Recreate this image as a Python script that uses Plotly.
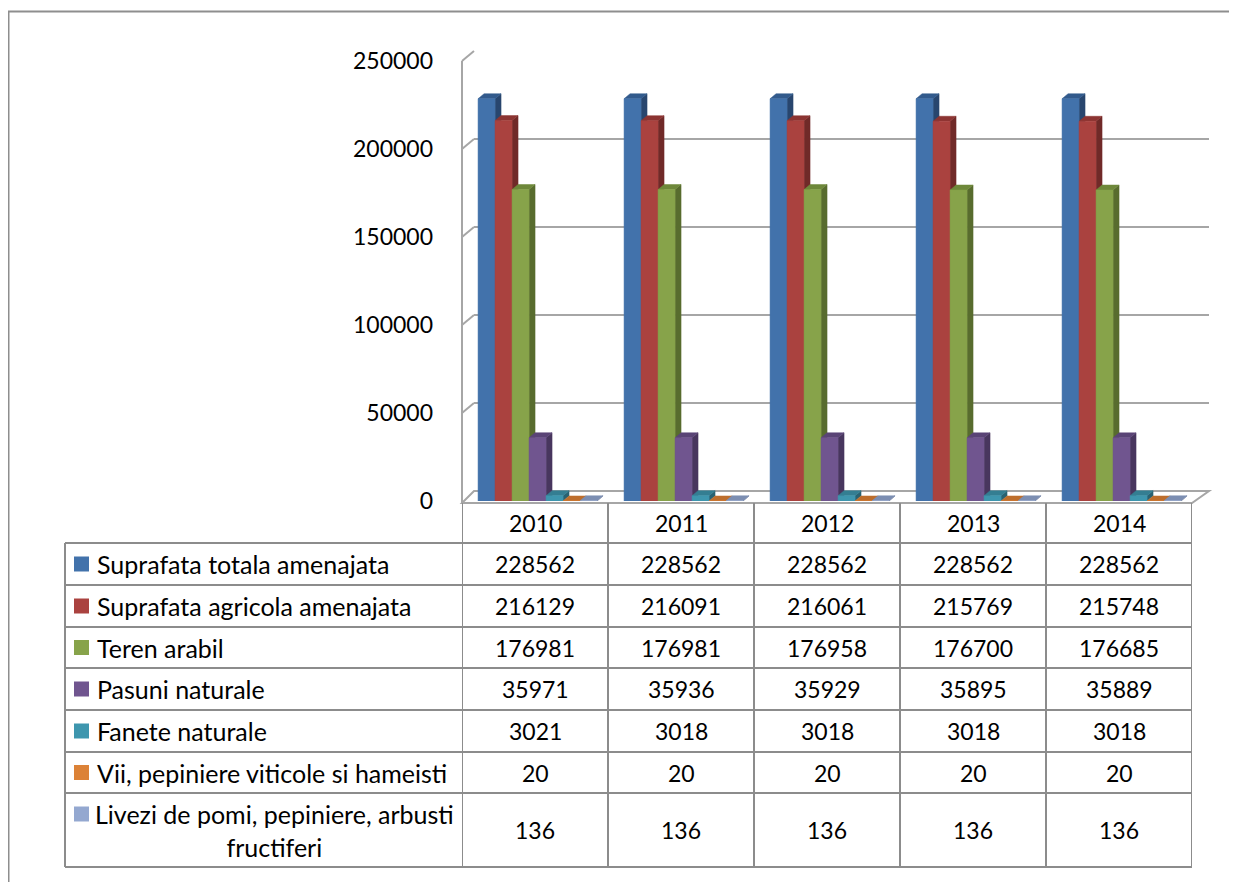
import plotly.graph_objects as go

years = ['2010', '2011', '2012', '2013', '2014']
series_names = [
    'Suprafata totala amenajata',
    'Suprafata agricola amenajata',
    'Teren arabil',
    'Pasuni naturale',
    'Fanete naturale',
    'Vii, pepiniere viticole si hameisti',
    'Livezi de pomi, pepiniere, arbusti fructiferi',
]
totala = [228562, 228562, 228562, 228562, 228562]
agricola = [216129, 216091, 216061, 215769, 215748]
arabil = [176981, 176981, 176958, 176700, 176685]
pasuni = [35971, 35936, 35929, 35895, 35889]
fanete = [3021, 3018, 3018, 3018, 3018]
vii = [20, 20, 20, 20, 20]
livezi = [136, 136, 136, 136, 136]
y_ticks = [0, 50000, 100000, 150000, 200000, 250000]

series_values = [totala, agricola, arabil, pasuni, fanete, vii, livezi]

front_colors = ['rgb(66,114,171)', 'rgb(170,66,63)', 'rgb(135,163,74)', 'rgb(112,85,143)',
                'rgb(62,150,174)', 'rgb(220,130,55)', 'rgb(148,168,208)']
side_colors = ['rgb(40,70,110)', 'rgb(112,42,40)', 'rgb(88,108,46)', 'rgb(72,54,94)',
               'rgb(40,98,114)', 'rgb(150,88,36)', 'rgb(100,114,146)']
top_colors = ['rgb(50,90,140)', 'rgb(140,52,50)', 'rgb(110,136,58)', 'rgb(90,68,118)',
              'rgb(52,126,146)', 'rgb(190,110,44)', 'rgb(124,142,178)']

W, H = 1237, 882
OFF = 8  # page body margin shifts the figure by this much
YMAX = 250000
# front plane (pixels in the page)
X0, X1, Y0, YT = 462, 1192, 501, 61
# back wall (pixels in the page)
BX0, BX1, BY0, BYT = 474, 1209, 491, 51


def px(x):
    return (x - OFF) / W


def py(y):
    return 1 - (y - OFF) / H


def fy(t):
    return Y0 - t / YMAX * (Y0 - YT)


def by(t):
    return BY0 - t / YMAX * (BY0 - BYT)


cat_px = (X1 - X0) / len(years)
w = 17 / cat_px
dx = 6 / cat_px
dy = 5 * YMAX / (Y0 - YT)
left = -0.39

fig = go.Figure()

# back wall grid lives on x/y so it sits under the bars
fig.add_trace(go.Scatter(x=[0], y=[0], mode='markers', marker=dict(opacity=0),
                         hoverinfo='skip', showlegend=False, xaxis='x', yaxis='y'))

for j, (name, vals) in enumerate(zip(series_names, series_values)):
    fx, fyy, sx, sy, tx, ty = [], [], [], [], [], []
    for i, v in enumerate(vals):
        xl = i + left + j * w
        xr = xl + w
        sx += [xr, xr + dx, xr + dx, xr, xr, None]
        sy += [0, dy, v + dy, v, 0, None]
        tx += [xl, xr, xr + dx, xl + dx, xl, None]
        ty += [v, v, v + dy, v + dy, v, None]
        fx += [xl, xr, xr, xl, xl, None]
        fyy += [0, 0, v, v, 0, None]
    for xs, ys, col in [(sx, sy, side_colors[j]), (tx, ty, top_colors[j]), (fx, fyy, front_colors[j])]:
        fig.add_trace(go.Scatter(
            x=xs, y=ys, mode='lines', fill='toself', fillcolor=col,
            line=dict(color=col, width=0.5), name=name, showlegend=False,
            hoverinfo='skip', xaxis='x2', yaxis='y2'))

shapes = []
grid = dict(color='#A6A6A6', width=2)
tab = dict(color='#8C8C8C', width=2)

# outer frame
shapes.append(dict(type='line', xref='paper', yref='paper', x0=px(8.5), x1=px(8.5),
                   y0=py(11), y1=0, line=dict(color='#8E8E8E', width=2)))
shapes.append(dict(type='line', xref='paper', yref='paper', x0=px(8), x1=1,
                   y0=py(11.5), y1=py(11.5), line=dict(color='#8E8E8E', width=2)))

# side wall
shapes.append(dict(type='line', xref='paper', yref='paper', x0=px(X0), x1=px(X0),
                   y0=py(Y0 + 2), y1=py(YT), line=grid))
for t in y_ticks[1:]:
    shapes.append(dict(type='line', xref='paper', yref='paper', x0=px(X0), x1=px(BX0),
                       y0=py(fy(t)), y1=py(by(t)), line=grid))

# floor
shapes.append(dict(type='path', xref='paper', yref='paper', layer='below',
                   path='M {} {} L {} {} L {} {} L {} {} Z'.format(
                       px(X0), py(Y0 + 2), px(X1), py(Y0 + 2),
                       px(BX1), py(BY0), px(BX0), py(BY0)),
                   line=grid, fillcolor='white'))

# data table
row_lines = [543, 585, 627, 668, 710, 752, 793, 867]
TL = 65
for k in range(len(years) + 1):
    shapes.append(dict(type='line', xref='x2', yref='paper', x0=k - 0.5, x1=k - 0.5,
                       y0=py(Y0 + 2), y1=py(row_lines[-1]), line=tab))
shapes.append(dict(type='line', xref='paper', yref='paper', x0=px(TL), x1=px(TL),
                   y0=py(row_lines[0]), y1=py(row_lines[-1]), line=tab))
for r in row_lines:
    shapes.append(dict(type='line', xref='paper', yref='paper', x0=px(TL), x1=px(X1),
                       y0=py(r), y1=py(r), line=tab))

FAM = 'Lato, Carlito, sans-serif'
num_font = dict(family=FAM, size=23, color='black')
lab_font = dict(family=FAM, size=25, color='black')
annotations = []
for i, yr in enumerate(years):
    annotations.append(dict(x=i, y=py((Y0 + 2 + row_lines[0]) / 2), xref='x2', yref='paper',
                            xanchor='center', yanchor='middle',
                            text=yr, showarrow=False, font=num_font))

for j, (name, vals) in enumerate(zip(series_names, series_values)):
    yc = (row_lines[j] + row_lines[j + 1]) / 2
    if j == len(series_names) - 1:
        first, last = name.rsplit(' ', 1)
        annotations.append(dict(x=px(274), y=py(yc), xref='paper', yref='paper',
                                xanchor='center', yanchor='middle',
                                text=first + '<br>' + last, showarrow=False, align='center',
                                font=lab_font))
        sw = yc - 16
    else:
        annotations.append(dict(x=px(95), y=py(yc), xref='paper', yref='paper',
                                xanchor='left', yanchor='middle',
                                text=name, showarrow=False, font=lab_font))
        sw = yc
    shapes.append(dict(type='rect', xref='paper', yref='paper', x0=px(74), x1=px(89),
                       y0=py(sw - 7.5), y1=py(sw + 7.5), fillcolor=front_colors[j],
                       line=dict(width=0)))
    for i, v in enumerate(vals):
        annotations.append(dict(x=i, y=py(yc), xref='x2', yref='paper', text=str(v),
                                xanchor='center', yanchor='middle',
                                showarrow=False, font=num_font))

fig.update_layout(
    width=W, height=H,
    margin=dict(l=0, r=0, t=0, b=0, autoexpand=False),
    paper_bgcolor='white', plot_bgcolor='rgba(0,0,0,0)',
    showlegend=False,
    xaxis=dict(domain=[px(BX0), px(BX1)], range=[0, 1], visible=False, anchor='y',
               automargin=False),
    yaxis=dict(domain=[py(BY0), py(BYT)], range=[0, YMAX], tickvals=y_ticks,
               showticklabels=False, showgrid=True, gridcolor='#A6A6A6', gridwidth=2,
               zeroline=False, showline=False, anchor='x', automargin=False),
    xaxis2=dict(domain=[px(X0), px(X1)], range=[-0.5, len(years) - 0.5], visible=False,
                anchor='y2', automargin=False),
    yaxis2=dict(domain=[py(Y0), py(YT)], range=[0, YMAX], tickvals=y_ticks,
                ticktext=[str(t) for t in y_ticks], showgrid=False, zeroline=False,
                showline=False, anchor='x2', ticks='', ticklabelstandoff=28,
                automargin=False,
                tickfont=dict(family=FAM, size=23, color='black')),
    shapes=shapes,
    annotations=annotations,
)

fig.write_html("out.html")
